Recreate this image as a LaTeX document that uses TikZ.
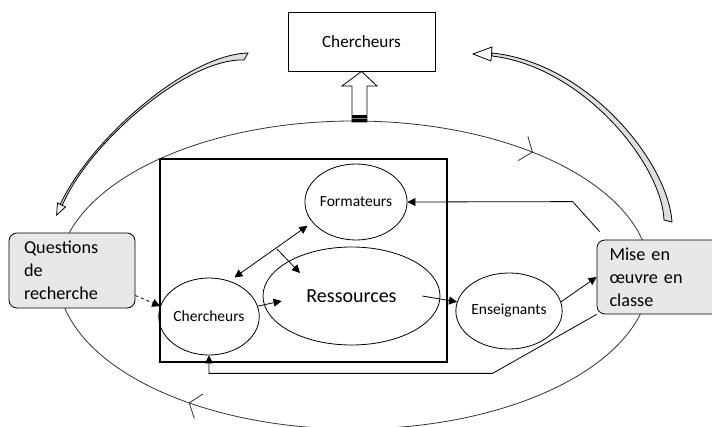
\documentclass[tikz,border=0pt]{standalone}
\usepackage{fontspec}
\setmainfont{Carlito}
\usetikzlibrary{shapes.geometric,arrows.meta,decorations.markings}

\tikzset{
  bulle/.style={draw, ellipse, inner sep=0pt, font=\fontsize{15.5}{18}\selectfont},
  cadre/.style={draw, rounded corners=8pt, fill=gray!18, align=left, inner sep=0pt, font=\fontsize{18.2}{23}\selectfont},
  fleche/.style={-{Triangle[length=8pt,width=8pt]}},
  ruban/.style={draw, line width=0.8pt, fill=gray!25},
  sens/.style={postaction={decorate}, decoration={markings,
      mark=at position 0.366 with {\arrow{Straight Barb[length=10pt,width=26pt]}},
      mark=at position 0.876 with {\arrow{Straight Barb[length=10pt,width=26pt]}}}},
}

\begin{document}
\begin{tikzpicture}[x=1pt,y=-1pt,line width=0.8pt]
	\useasboundingbox (0,0) rectangle (712,427);
	
	% grand cycle
	\draw[sens, draw=black!80] (354,275) ellipse [x radius=296, y radius=154];
	\draw[line width=2.2pt] (160,159) rectangle (447,362);
	
	% noeuds
	\node[draw, minimum width=147pt, minimum height=59pt, font=\fontsize{17.2}{20}\selectfont] (top) at (361.5,41.5) {Chercheurs};
	\node[bulle, minimum width=88pt, minimum height=76pt] (form) at (356,202) {Formateurs};
	\node[bulle, minimum width=177pt, minimum height=98pt, font=\fontsize{20}{22}\selectfont] (ress) at (351.5,296) {Ressources};
	\node[bulle, minimum width=86pt, minimum height=77pt] (cherch) at (209,316.5) {Chercheurs};
	\node[bulle, minimum width=88pt, minimum height=76pt] (ens) at (509,311) {Enseignants};
	\node[cadre, minimum width=126pt, minimum height=75pt, text width=96pt] (quest) at (72,270.5) {Questions\\de\\recherche};
	\node[cadre, minimum width=125pt, minimum height=74pt, text width=100pt] (mise) at (659.5,277) {Mise en\\\oe uvre en\\classe};
	
	% fleche pleine vers le haut
	\draw[fill=white] (352,122) -- (352,86) -- (342,86) -- (top.south) -- (377,86) -- (367,86) -- (367,122) -- cycle;
	\fill (352,115) rectangle (367,122);
	\draw[gray] (352,118.5) -- (367,118.5);
	
	% fleches courbes
	\draw[ruban] (248,53) .. controls (185,55) and (88,143) .. (60,205) -- (62,206) .. controls (88,144) and (186,58) .. (244,60) -- cycle;
	\draw[fill=white] (65.5,207) -- (56.6,215) -- (57.5,203) -- cycle;
	\draw[ruban] (672,222) .. controls (668,162) and (588,63) .. (492,53) -- (492,56) .. controls (584,67) and (662,165) .. (664,220) -- cycle;
	\draw[fill=white] (492,47) -- (473,54) -- (491,61) -- cycle;
	
	% liens
	\coordinate (lienA) at (277,249);
	\coordinate (lienB) at (300,273);
	\draw[fleche, dash pattern=on 3pt off 3pt] ([yshift=-25pt]quest.east) -- (cherch.168);
	\draw[fleche] (cherch.12) -- ([xshift=19pt,yshift=-5pt]ress.west);
	\draw[{Triangle[length=8pt,width=8pt]}-{Triangle[length=8pt,width=8pt]}, shorten <=6pt, shorten >=6pt] (cherch.60) -- (form.205);
	\draw[fleche] (lienA) -- (lienB);
	\draw[fleche] ([xshift=-18pt]ress.east) -- (ens.170);
	\draw[fleche] (ens.10) -- (mise.west);
	\draw[fleche] ([xshift=3pt,yshift=8pt]mise.north west) -- ++(-27,-30) -- (form.east);
	\draw[fleche] (mise.south west) -- ++(-104,59) -| (cherch.south);
	
\end{tikzpicture}
\end{document}
